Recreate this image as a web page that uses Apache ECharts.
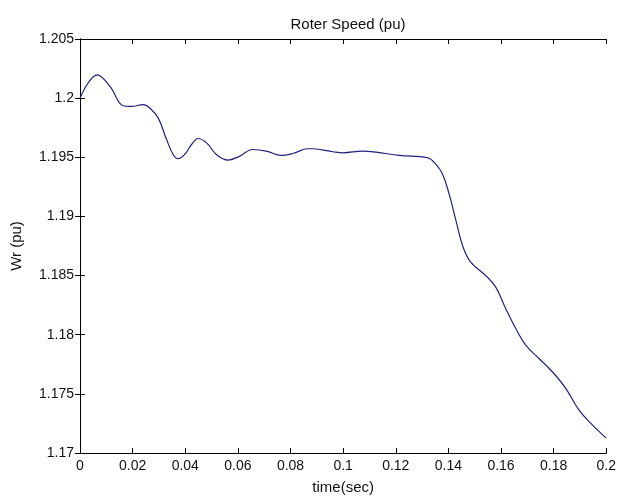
<!DOCTYPE html>
<html>
<head>
<meta charset="utf-8">
<script src="https://cdn.jsdelivr.net/npm/echarts@6/dist/echarts.min.js"></script>
<style>html,body{margin:0;padding:0;background:#fff}#c{width:619px;height:500px}</style>
</head>
<body>
<div id="c"></div>
<script>
var timeSec = [0, 0.0066, 0.0114, 0.0164, 0.0196, 0.024, 0.0265, 0.0297, 0.0329, 0.0354, 0.0373, 0.0398, 0.0424, 0.0449, 0.0481, 0.0518, 0.0562, 0.0607, 0.0657, 0.0708, 0.0765, 0.0809, 0.0866, 0.0885, 0.0961, 0.0999, 0.1074, 0.1125, 0.1214, 0.1321, 0.1353, 0.1378, 0.1403, 0.1429, 0.1454, 0.1485, 0.1542, 0.158, 0.1618, 0.1656, 0.1694, 0.1744, 0.1795, 0.1846, 0.1896, 0.1947, 0.2];
var speedPu = [1.2000, 1.20197, 1.20099, 1.19936, 1.1993, 1.19945, 1.19917, 1.19833, 1.1965, 1.19524, 1.19488, 1.19524, 1.19608, 1.19659, 1.19622, 1.19524, 1.19476, 1.1951, 1.19566, 1.19552, 1.19516, 1.19532, 1.19572, 1.19572, 1.19547, 1.19538, 1.19552, 1.19543, 1.19516, 1.19496, 1.1944, 1.19356, 1.19188, 1.18963, 1.18753, 1.18613, 1.185, 1.18402, 1.1822, 1.18052, 1.17911, 1.17799, 1.17687, 1.17547, 1.17364, 1.17238, 1.17126];
var xTickLabels = ['0','0.02','0.04','0.06','0.08','0.1','0.12','0.14','0.16','0.18','0.2'];
var yTickLabels = ['1.17','1.175','1.18','1.185','1.19','1.195','1.2','1.205'];

var pts = timeSec.map(function(t, i){ return [t, speedPu[i]]; });
var font = 'Liberation Sans, Arial, sans-serif';
var fmtX = function(v){ var i = Math.round(v / 0.02); return xTickLabels[i] !== undefined ? xTickLabels[i] : ''; };
var fmtY = function(v){ var i = Math.round((v - 1.17) / 0.005); return yTickLabels[i] !== undefined ? yTickLabels[i] : ''; };
var axLine = {show: true, lineStyle: {color: '#000', width: 1}};
var tick = {show: true, inside: true, length: 5, lineStyle: {color: '#000'}};

var chart = echarts.init(document.getElementById('c'), null, {renderer: 'canvas'});
chart.setOption({
  animation: false,
  backgroundColor: '#fff',
  title: {
    text: 'Roter Speed (pu)', left: 343, top: 12, textAlign: 'center',
    textStyle: {fontFamily: font, fontSize: 15, fontWeight: 'normal', color: '#111'}
  },
  grid: {left: 80, right: 12, top: 39, bottom: 45, containLabel: false},
  xAxis: [{
    type: 'value', min: 0, max: 0.2, interval: 0.02, position: 'bottom',
    name: 'time(sec)', nameLocation: 'middle', nameGap: 27,
    nameTextStyle: {fontFamily: font, fontSize: 15, color: '#111'},
    axisLine: axLine, axisTick: tick,
    axisLabel: {formatter: fmtX, fontFamily: font, fontSize: 14, color: '#111', margin: 6},
    splitLine: {show: false}
  }, {
    type: 'value', min: 0, max: 0.2, interval: 0.02, position: 'top',
    axisLine: axLine, axisTick: tick, axisLabel: {show: false}, splitLine: {show: false}
  }],
  yAxis: [{
    type: 'value', min: 1.17, max: 1.205, interval: 0.005, position: 'left',
    name: 'Wr (pu)', nameLocation: 'middle', nameGap: 56, nameRotate: 90,
    nameTextStyle: {fontFamily: font, fontSize: 15, color: '#111'},
    axisLine: axLine, axisTick: tick,
    axisLabel: {formatter: fmtY, fontFamily: font, fontSize: 14, color: '#111', margin: 6},
    splitLine: {show: false}
  }, {
    type: 'value', min: 1.17, max: 1.205, interval: 0.005, position: 'right',
    axisLine: axLine, axisTick: tick, axisLabel: {show: false}, splitLine: {show: false}
  }],
  series: [{
    type: 'line', data: pts, smooth: 0.4, showSymbol: false, symbol: 'none',
    lineStyle: {color: '#22227a', width: 1.2}, clip: true
  }]
});
</script>
</body>
</html>
